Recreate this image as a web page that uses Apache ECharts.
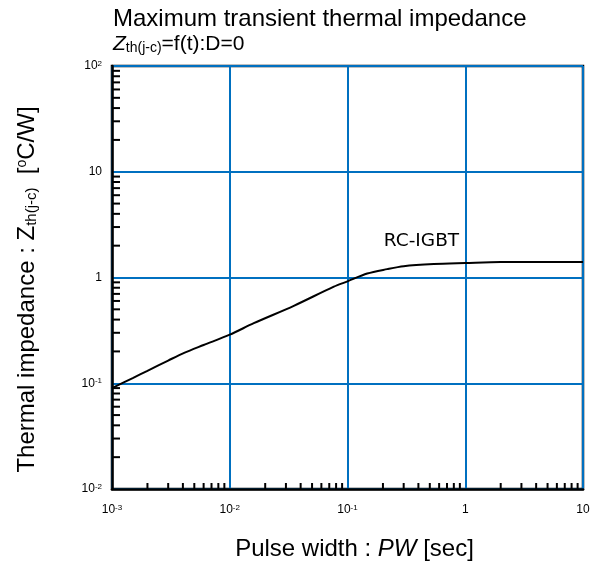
<!DOCTYPE html>
<html>
<head>
<meta charset="utf-8">
<script src="https://cdn.jsdelivr.net/npm/echarts@6/dist/echarts.min.js"></script>
<style>html,body{margin:0;padding:0;background:#fff}#c{width:607px;height:566px}</style>
</head>
<body>
<div id="c"></div>
<script>
// Data
const pulseWidth = [0.001, 0.0015, 0.002, 0.003, 0.0041, 0.006, 0.01, 0.016, 0.035, 0.0766, 0.1, 0.147, 0.217, 0.3, 0.54, 1, 2, 10];
const zth        = [0.090, 0.112, 0.131, 0.164, 0.194, 0.230, 0.288, 0.37, 0.54, 0.82, 0.92, 1.09, 1.20, 1.28, 1.34, 1.37, 1.40, 1.40];
const seriesName = 'RC-IGBT';
const labelPos = [0.425, 2.22];
const xRange = [0.001, 10];
const yRange = [0.01, 100];
// minor tick positions (2..9 in each decade)
const mult = [2, 3, 4, 5, 6, 7, 8, 9];
const xMinor = [], yMinor = [];
[0.001, 0.01, 0.1, 1].forEach(d => mult.forEach(m => xMinor.push([+(d * m).toPrecision(3), yRange[0]])));
[0.01, 0.1, 1, 10].forEach(d => mult.forEach(m => yMinor.push([xRange[0], +(d * m).toPrecision(3)])));

const FONT = 'Liberation Sans, Arial, sans-serif';
function expLabel(v) {
  const e = Math.round(Math.log10(v));
  if (e === 0) return '1';
  if (e === 1) return '10';
  return '10{sup|' + e + '}';
}
const tickRich = { sup: { fontSize: 8, fontFamily: FONT, color: '#000', verticalAlign: 'top', lineHeight: 9 } };

const chart = echarts.init(document.getElementById('c'), null, { renderer: 'canvas' });
chart.setOption({
  animation: false,
  backgroundColor: '#fff',
  title: {
    left: 113, top: 7, padding: 0, itemGap: 3,
    text: 'Maximum transient thermal impedance',
    textStyle: { fontFamily: FONT, fontSize: 24, fontWeight: 'normal', color: '#000' },
    subtext: '{z|Z}{sub|th(j-c)}=f(t):D=0',
    subtextStyle: {
      fontFamily: FONT, fontSize: 21, color: '#000',
      rich: {
        z: { fontFamily: FONT, fontSize: 21, fontStyle: 'italic', color: '#000' },
        sub: { fontFamily: FONT, fontSize: 14, color: '#000', verticalAlign: 'bottom', lineHeight: 8 }
      }
    }
  },
  grid: { left: 112, top: 66, width: 471, height: 426, show: true, borderColor: '#000', borderWidth: 2.5, backgroundColor: 'transparent' },
  xAxis: {
    type: 'log', logBase: 10, min: xRange[0], max: xRange[1],
    name: 'Pulse width : {i|PW} [sec]', nameLocation: 'middle', nameGap: 48,
    nameTextStyle: { fontFamily: FONT, fontSize: 24, color: '#000', padding: [0, 0, 0, 14],
      rich: { i: { fontFamily: FONT, fontSize: 24, fontStyle: 'italic', color: '#000' } } },
    axisLine: { show: true, lineStyle: { color: '#000', width: 2.5 } },
    axisTick: { show: false },
    minorTick: { show: false },
    splitLine: { show: true, lineStyle: { color: '#0070C0', width: 2 } },
    axisLabel: { margin: 15, fontFamily: FONT, fontSize: 12, color: '#000', formatter: expLabel, rich: tickRich }
  },
  yAxis: {
    type: 'log', logBase: 10, min: yRange[0], max: yRange[1],
    name: 'Thermal impedance : Z{sub|th(j-c)}  [{sup|o}C/W]', nameLocation: 'middle', nameGap: 73,
    nameTextStyle: { fontFamily: FONT, fontSize: 24, color: '#000', padding: [0, 24, 0, 0],
      rich: {
        sub: { fontFamily: FONT, fontSize: 15, color: '#000', verticalAlign: 'bottom', lineHeight: 10 },
        sup: { fontFamily: FONT, fontSize: 14, color: '#000', verticalAlign: 'top', lineHeight: 14 }
      } },
    axisLine: { show: true, lineStyle: { color: '#000', width: 2.5 } },
    axisTick: { show: false },
    minorTick: { show: false },
    splitLine: { show: true, lineStyle: { color: '#0070C0', width: 2 } },
    axisLabel: { margin: 10, fontFamily: FONT, fontSize: 12, color: '#000', formatter: expLabel, rich: tickRich }
  },
  series: [
    {
      type: 'custom', silent: true, z: 5, data: xMinor, clip: false,
      renderItem: (params, api) => {
        const p = api.coord([api.value(0), api.value(1)]);
        return { type: 'line', shape: { x1: p[0], y1: p[1], x2: p[0], y2: p[1] - 6 }, style: { stroke: '#000', lineWidth: 2 } };
      }
    },
    {
      type: 'custom', silent: true, z: 5, data: yMinor, clip: false,
      renderItem: (params, api) => {
        const p = api.coord([api.value(0), api.value(1)]);
        return { type: 'line', shape: { x1: p[0], y1: p[1], x2: p[0] + 8, y2: p[1] }, style: { stroke: '#000', lineWidth: 2 } };
      }
    },
    {
      name: seriesName, type: 'line', z: 6,
      data: pulseWidth.map((t, i) => [t, zth[i]]),
      showSymbol: false, symbol: 'none', smooth: 0.3,
      lineStyle: { color: '#000', width: 2 },
      markPoint: {
        silent: true, symbol: 'circle', symbolSize: 1,
        itemStyle: { color: 'rgba(0,0,0,0)' },
        label: { show: true, position: 'inside', formatter: seriesName, fontFamily: 'DejaVu Sans, Verdana, sans-serif', fontSize: 18.5, color: '#000' },
        data: [{ coord: labelPos }]
      }
    }
  ]
});
</script>
</body>
</html>
